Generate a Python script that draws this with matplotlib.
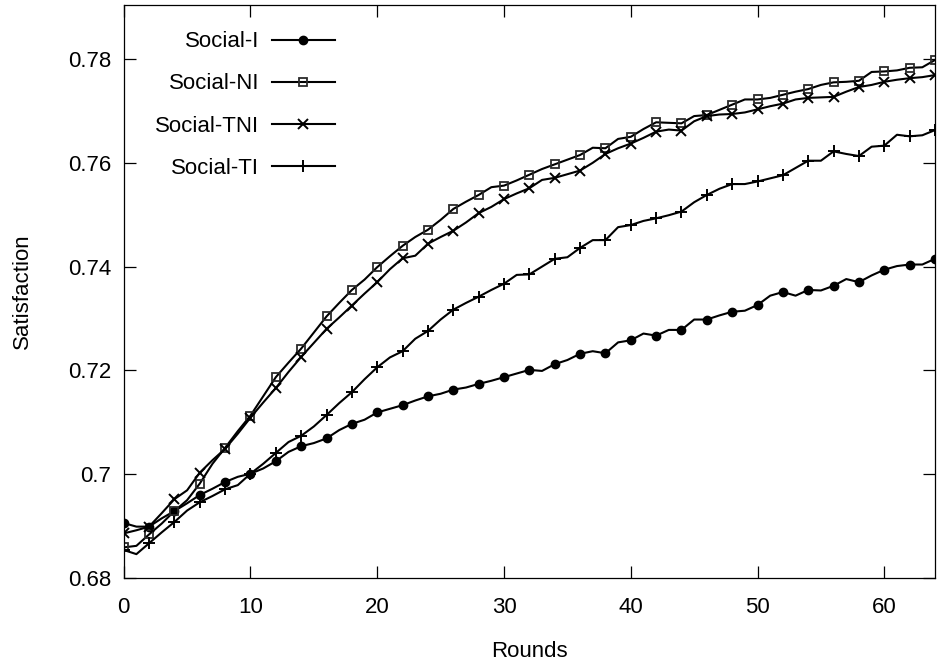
import matplotlib
matplotlib.use("Agg")
import matplotlib.pyplot as plt
from matplotlib.ticker import FuncFormatter


rounds = list(range(0, 65))

social_i = [
    0.6906, 0.6899, 0.6899, 0.6915, 0.6929, 0.6944, 0.6960, 0.6972, 0.6985, 0.6995,
    0.7001, 0.7011, 0.7025, 0.7043, 0.7054, 0.7060, 0.7069, 0.7085, 0.7097, 0.7105,
    0.7119, 0.7126, 0.7133, 0.7142, 0.7150, 0.7155, 0.7163, 0.7167, 0.7174, 0.7180,
    0.7187, 0.7194, 0.7201, 0.7199, 0.7212, 0.7220, 0.7232, 0.7237, 0.7233, 0.7254,
    0.7258, 0.7271, 0.7267, 0.7278, 0.7278, 0.7298, 0.7298, 0.7306, 0.7313, 0.7315,
    0.7326, 0.7344, 0.7351, 0.7344, 0.7355, 0.7354, 0.7363, 0.7376, 0.7370, 0.7383,
    0.7394, 0.7401, 0.7404, 0.7404, 0.7415,
]

social_ni = [
    0.6859, 0.6862, 0.6884, 0.6905, 0.6929, 0.6950, 0.6982, 0.7020, 0.7051, 0.7083,
    0.7113, 0.7150, 0.7187, 0.7215, 0.7242, 0.7273, 0.7304, 0.7330, 0.7355, 0.7375,
    0.7399, 0.7420, 0.7440, 0.7457, 0.7471, 0.7490, 0.7511, 0.7525, 0.7538, 0.7553,
    0.7556, 0.7566, 0.7577, 0.7588, 0.7597, 0.7606, 0.7615, 0.7629, 0.7628, 0.7646,
    0.7650, 0.7665, 0.7678, 0.7677, 0.7676, 0.7690, 0.7692, 0.7702, 0.7712, 0.7722,
    0.7722, 0.7725, 0.7731, 0.7737, 0.7742, 0.7750, 0.7755, 0.7756, 0.7758, 0.7775,
    0.7776, 0.7778, 0.7783, 0.7784, 0.7798,
]

social_tni = [
    0.6886, 0.6892, 0.6899, 0.6925, 0.6952, 0.6969, 0.7003, 0.7027, 0.7049, 0.7078,
    0.7109, 0.7138, 0.7166, 0.7197, 0.7226, 0.7253, 0.7280, 0.7302, 0.7325, 0.7348,
    0.7370, 0.7395, 0.7416, 0.7421, 0.7444, 0.7457, 0.7469, 0.7485, 0.7503, 0.7515,
    0.7530, 0.7541, 0.7551, 0.7567, 0.7571, 0.7578, 0.7585, 0.7600, 0.7617, 0.7628,
    0.7637, 0.7648, 0.7660, 0.7664, 0.7662, 0.7680, 0.7690, 0.7693, 0.7694, 0.7697,
    0.7703, 0.7709, 0.7714, 0.7722, 0.7725, 0.7726, 0.7727, 0.7737, 0.7746, 0.7750,
    0.7756, 0.7760, 0.7763, 0.7765, 0.7769,
]

social_ti = [
    0.6854, 0.6846, 0.6867, 0.6888, 0.6908, 0.6930, 0.6946, 0.6958, 0.6971, 0.6979,
    0.7001, 0.7020, 0.7041, 0.7062, 0.7074, 0.7092, 0.7114, 0.7137, 0.7158, 0.7183,
    0.7206, 0.7225, 0.7237, 0.7261, 0.7276, 0.7298, 0.7317, 0.7330, 0.7342, 0.7355,
    0.7367, 0.7384, 0.7385, 0.7400, 0.7415, 0.7418, 0.7436, 0.7451, 0.7451, 0.7476,
    0.7480, 0.7488, 0.7493, 0.7499, 0.7506, 0.7524, 0.7538, 0.7550, 0.7559, 0.7559,
    0.7564, 0.7570, 0.7576, 0.7590, 0.7604, 0.7604, 0.7622, 0.7617, 0.7613, 0.7631,
    0.7633, 0.7654, 0.7651, 0.7653, 0.7663,
]

labels = ["Social-I", "Social-NI", "Social-TNI", "Social-TI"]
xticks = [0, 10, 20, 30, 40, 50, 60]
yticks = [0.68, 0.70, 0.72, 0.74, 0.76, 0.78]

plt.rcParams["font.family"] = ["Liberation Sans", "DejaVu Sans"]
plt.rcParams["font.size"] = 16

fig = plt.figure(figsize=(9.38, 6.66), dpi=100)
ax = fig.add_axes([0.1319, 0.1321, 0.9968 - 0.1319, 0.9925 - 0.1321])

common = dict(color="black", lw=1.5, markevery=2)
ax.plot(rounds, social_i, marker="o", ms=6, mfc="black", mec="black",
        label=labels[0], **common)
ax.plot(rounds, social_ni, marker="s", ms=6, mfc="none", mec="#2a2a2a",
        mew=1.3, label=labels[1], **common)
ax.plot(rounds, social_tni, marker="x", ms=7, mew=1.4, label=labels[2], **common)
ax.plot(rounds, social_ti, marker="+", ms=8, mew=1.4, label=labels[3], **common)

ax.set_xlim(0, 64)
ax.set_ylim(0.68, 0.7904)
ax.set_xticks(xticks)
ax.set_yticks(yticks)
ax.yaxis.set_major_formatter(FuncFormatter(lambda v, p: "%g" % round(v, 4)))
ax.tick_params(direction="in", length=8.5, width=0.9, top=True, right=True)
ax.tick_params(axis="y", pad=9)
ax.tick_params(axis="x", pad=14)
for s in ax.spines.values():
    s.set_linewidth(0.9)

ax.set_xlabel("Rounds", labelpad=16)
ax.set_ylabel("Satisfaction", labelpad=25)

ax.legend(loc="upper right", bbox_to_anchor=(0.357, 0.953),
          bbox_transform=fig.transFigure, frameon=False, markerfirst=False,
          handlelength=2.85, handletextpad=0.55, labelspacing=0.95,
          borderpad=0, borderaxespad=0)

fig.savefig("out.png", dpi=100)
